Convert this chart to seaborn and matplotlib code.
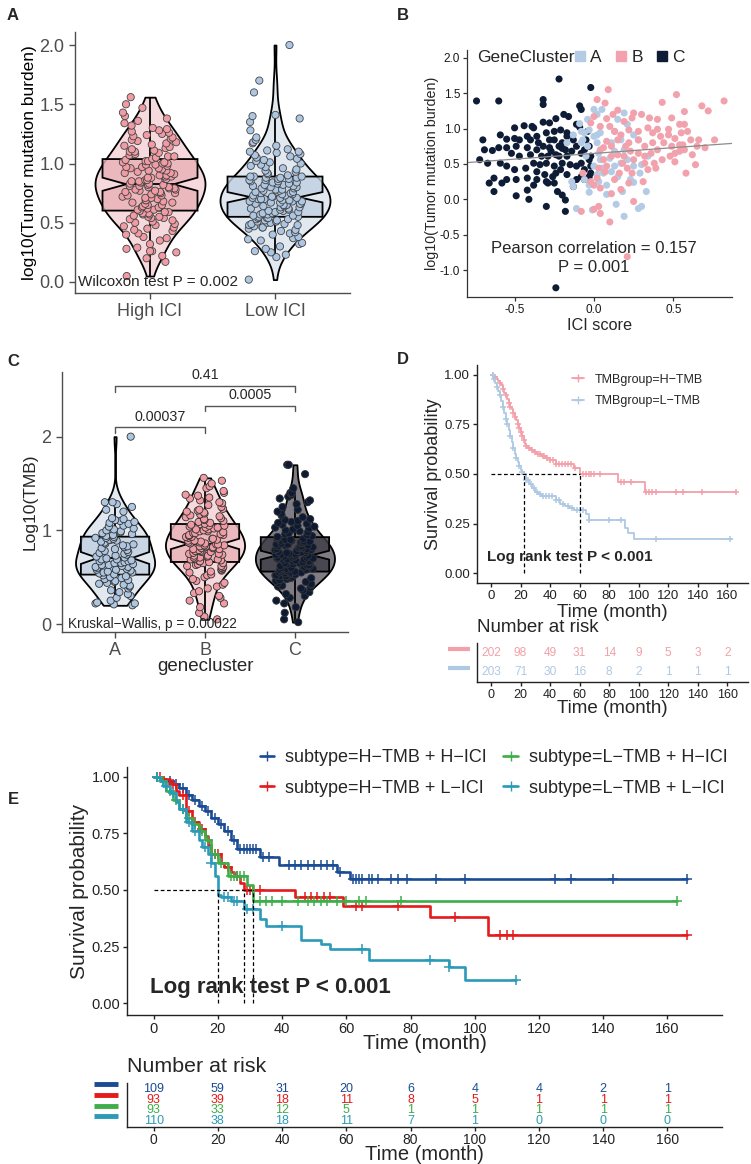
import numpy as np
import pandas as pd
import matplotlib
matplotlib.use("Agg")
import matplotlib.pyplot as plt
import seaborn as sns
from matplotlib.lines import Line2D
from matplotlib.ticker import FormatStrFormatter

## DATA ##
# Panel A: log10(TMB) by ICI group
tmb_high_ici = [0.05, 0.17, 0.20, 0.22, 0.25, 0.26, 0.26, 0.28, 0.29, 0.32, 0.35, 0.37, 0.38, 0.40, 0.41, 0.43, 0.44, 0.45, 0.46, 0.47, 0.48, 0.49, 0.50, 0.51, 0.52, 0.53, 0.54, 0.54, 0.55, 0.55, 0.56, 0.57, 0.57, 0.58, 0.58, 0.59, 0.59,
                0.60, 0.61, 0.61, 0.62, 0.63, 0.63, 0.64, 0.65, 0.65, 0.66, 0.67, 0.67, 0.68, 0.69, 0.69, 0.70, 0.71, 0.71, 0.72, 0.73, 0.73, 0.74, 0.75, 0.75, 0.76, 0.76, 0.77, 0.77, 0.78, 0.78, 0.79, 0.79, 0.80, 0.80, 0.81, 0.81, 0.82, 0.82,
                0.83, 0.83, 0.84, 0.84, 0.85, 0.85, 0.86, 0.86, 0.87, 0.87, 0.88, 0.88, 0.89, 0.89, 0.90, 0.90, 0.91, 0.92, 0.92, 0.93, 0.94, 0.94, 0.95, 0.96, 0.96, 0.97, 0.97, 0.98, 0.99, 0.99, 1.00, 1.00, 1.01, 1.01, 1.02, 1.02, 1.03, 1.04,
                1.05, 1.06, 1.06, 1.07, 1.08, 1.09, 1.10, 1.10, 1.11, 1.12, 1.13, 1.14, 1.15, 1.16, 1.17, 1.18, 1.19, 1.20, 1.21, 1.22, 1.23, 1.24, 1.25, 1.26, 1.27, 1.28, 1.29, 1.30, 1.32, 1.34, 1.36, 1.38, 1.40, 1.43, 1.47, 1.50, 1.56]
tmb_low_ici = [0.02, 0.21, 0.23, 0.25, 0.26, 0.28, 0.30, 0.32, 0.33, 0.35, 0.36, 0.37, 0.38, 0.40, 0.41, 0.42, 0.43, 0.44, 0.45, 0.46, 0.46, 0.47, 0.48, 0.48, 0.49, 0.49, 0.50, 0.50, 0.51, 0.51, 0.52, 0.52, 0.53, 0.53, 0.54, 0.54, 0.54,
               0.55, 0.55, 0.56, 0.56, 0.57, 0.57, 0.58, 0.58, 0.59, 0.59, 0.60, 0.60, 0.61, 0.61, 0.62, 0.62, 0.63, 0.63, 0.64, 0.64, 0.65, 0.65, 0.66, 0.66, 0.66, 0.67, 0.67, 0.68, 0.68, 0.68, 0.69, 0.69, 0.70, 0.70, 0.70, 0.71, 0.71, 0.71,
               0.72, 0.72, 0.73, 0.73, 0.74, 0.74, 0.75, 0.75, 0.76, 0.76, 0.77, 0.77, 0.78, 0.78, 0.79, 0.79, 0.80, 0.80, 0.81, 0.81, 0.82, 0.82, 0.83, 0.83, 0.84, 0.84, 0.85, 0.85, 0.86, 0.86, 0.87, 0.87, 0.88, 0.88, 0.88, 0.89, 0.89, 0.89,
               0.90, 0.91, 0.92, 0.93, 0.94, 0.95, 0.96, 0.97, 0.98, 0.99, 1.00, 1.01, 1.02, 1.03, 1.04, 1.05, 1.06, 1.07, 1.08, 1.09, 1.10, 1.10, 1.11, 1.12, 1.15, 1.17, 1.18, 1.20, 1.22, 1.28, 1.35, 1.38, 1.40, 1.41, 1.60, 1.70, 2.00]

# Panel B: ICI score vs log10(TMB) per gene cluster
clusterC_ici = [-0.74, -0.60, -0.22, -0.02, -0.32, -0.32, -0.09, -0.08, -0.19, -0.16, -0.24, -0.28, -0.32, -0.39, -0.38, -0.44, -0.50, -0.59, -0.55, -0.50,
                -0.47, -0.42, -0.36, -0.30, -0.25, -0.21, -0.11, -0.09, -0.17, -0.13, -0.25, -0.20, -0.22, -0.18, -0.28, -0.32, -0.36, -0.42, -0.49, -0.55,
                -0.60, -0.69, -0.64, -0.52, -0.47, -0.40, -0.33, -0.29, -0.24, -0.17, -0.08, -0.06, -0.03, -0.02, -0.67, -0.59, -0.55, -0.50, -0.43, -0.38,
                -0.34, -0.30, -0.25, -0.20, -0.15, -0.11, -0.06, -0.02, -0.02, -0.08, -0.11, -0.17, -0.21, -0.26, -0.31, -0.36, -0.42, -0.49, -0.55, -0.63,
                -0.66, -0.58, -0.42, -0.38, -0.30, -0.25, -0.23, -0.20, -0.18, -0.49, -0.41, -0.63, -0.30, -0.18, -0.24, -0.72, -0.70, -0.40, -0.35, -0.28,
                -0.24, -0.14, -0.11, -0.05, -0.04, -0.13, -0.06, -0.03, -0.17, -0.29, -0.36, -0.22, -0.27, -0.20, -0.08, -0.03]
clusterC_tmb = [1.39, 1.39, 1.70, 1.58, 1.41, 1.34, 1.32, 1.27, 1.20, 1.17, 1.14, 1.08, 1.09, 1.03, 1.01, 1.04, 1.01, 0.91, 0.85, 0.86,
                0.84, 0.89, 0.89, 0.94, 0.96, 0.98, 1.06, 1.02, 0.89, 0.84, 0.84, 0.80, 0.75, 0.70, 0.73, 0.75, 0.70, 0.73, 0.75, 0.73,
                0.73, 0.70, 0.69, 0.65, 0.61, 0.63, 0.61, 0.61, 0.63, 0.61, 0.65, 0.70, 0.75, 0.61, 0.51, 0.51, 0.47, 0.42, 0.44, 0.51,
                0.49, 0.51, 0.47, 0.51, 0.49, 0.47, 0.42, 0.47, 0.37, 0.32, 0.28, 0.35, 0.42, 0.32, 0.35, 0.39, 0.30, 0.28, 0.28, 0.30,
                0.23, 0.23, 0.13, 0.20, 0.25, 0.23, 0.11, 0.06, -0.01, 0.05, 0.00, 0.11, -0.10, -0.17, -1.25, 0.56, 0.84, 0.84, 0.80, 0.84,
                0.37, 0.68, 0.75, 0.84, 0.96, 0.18, 0.28, 0.32, 0.94, 0.23, 0.28, 0.61, 0.68, 0.72, 0.51, 0.56]
clusterA_ici = [0.00, 0.05, 0.02, -0.03, -0.06, -0.07, -0.08, -0.04, 0.02, 0.04, 0.02, 0.03, 0.04, 0.00, 0.02, 0.06, 0.11, 0.15, 0.13, 0.17,
                0.21, 0.25, 0.30, 0.34, 0.29, 0.23, 0.25, 0.21, 0.15, 0.19, 0.28, 0.19, 0.11, 0.13, 0.08, -0.03, -0.01, -0.11, 0.08, 0.14,
                0.19, 0.28, 0.30, 0.33, -0.14, -0.13, -0.17, -0.13, -0.08, -0.09, -0.04, 0.13, 0.17, 0.05, 0.10, -0.05, -0.06, -0.03, 0.18, 0.25,
                0.03, 0.00]
clusterA_tmb = [1.27, 1.27, 1.20, 0.98, 0.94, 0.84, 0.80, 0.75, 0.91, 0.94, 0.80, 0.65, 0.56, 0.47, 0.35, 0.37, 0.39, 0.32, 0.47, 0.51,
                0.56, 0.47, 0.49, 0.61, 0.37, 0.28, 0.91, 1.06, 1.13, 1.22, 0.84, 0.70, 0.80, 0.68, 0.20, 0.10, -0.15, -0.13, 0.07, -0.07,
                -0.24, -0.13, -0.10, 0.11, 0.25, 0.18, 0.80, 0.91, 0.96, 1.07, 1.13, 0.96, 0.84, 0.44, 0.58, 0.61, 0.28, 0.20, 0.11, 0.24,
                0.25, 0.89]
clusterB_ici = [0.02, 0.09, 0.07, 0.15, 0.12, 0.08, 0.10, 0.04, 0.13, 0.19, 0.24, 0.30, 0.35, 0.40, 0.43, 0.52, 0.68, 0.82, 0.72, 0.57,
                0.49, 0.54, 0.57, 0.47, 0.40, 0.34, 0.28, 0.22, 0.17, 0.15, 0.11, 0.06, 0.08, 0.22, 0.28, 0.32, 0.37, 0.42, 0.47, 0.51,
                0.55, 0.59, 0.61, 0.54, 0.49, 0.44, 0.40, 0.36, 0.32, 0.28, 0.23, 0.19, 0.15, 0.11, 0.06, 0.04, 0.25, 0.32, 0.38, 0.43,
                0.51, 0.57, 0.65, 0.70, 0.66, 0.76, 0.62, 0.51, 0.64, 0.58, 0.39, 0.34, 0.21, 0.16, 0.13, 0.07, 0.03, 0.02, -0.02, -0.07,
                0.00, 0.04, 0.11, 0.03, 0.00, -0.08, 0.04, 0.10, 0.17, 0.22, 0.24, 0.31, 0.25, 0.21, 0.56, 0.37, 0.25, 0.48, 0.54, 0.18,
                0.20, 0.08, 0.00, -0.02]
clusterB_tmb = [1.41, 1.55, 1.36, 1.26, 1.20, 1.14, 1.03, 1.03, 0.96, 1.10, 1.15, 1.20, 1.15, 1.13, 1.37, 1.48, 1.32, 1.39, 1.25, 1.24,
                1.15, 1.06, 1.06, 0.99, 0.99, 1.01, 0.96, 0.98, 0.91, 0.84, 0.75, 0.73, 0.82, 0.80, 0.84, 0.75, 0.80, 0.89, 0.91, 0.86,
                0.94, 0.96, 0.84, 0.77, 0.75, 0.80, 0.70, 0.65, 0.61, 0.65, 0.68, 0.61, 0.63, 0.61, 0.56, 0.70, 0.56, 0.51, 0.51, 0.56,
                0.53, 0.70, 0.75, 0.73, 0.84, 0.84, 0.63, 0.65, 0.49, 0.37, 0.44, 0.42, 0.44, 0.37, 0.28, 0.39, 0.44, 0.30, 0.25, 0.37,
                0.20, 0.16, 0.08, -0.10, -0.14, -0.17, -0.20, -0.32, 0.14, 0.23, 0.37, 0.25, -0.03, -0.81, 0.77, 0.94, 1.22, 0.61, 0.68, 0.51,
                0.75, 0.47, 1.17, 1.08]

# Panel C: log10(TMB) by gene cluster
tmb_cluster_a = [0.20, 0.21, 0.22, 0.22, 0.23, 0.25, 0.28, 0.30, 0.32, 0.34, 0.36, 0.38, 0.40, 0.41, 0.42, 0.43, 0.44, 0.45, 0.46, 0.47, 0.48, 0.49, 0.50, 0.51, 0.52,
                 0.53, 0.54, 0.55, 0.55, 0.56, 0.57, 0.58, 0.58, 0.59, 0.60, 0.61, 0.61, 0.62, 0.63, 0.63, 0.64, 0.65, 0.65, 0.66, 0.67, 0.67, 0.68, 0.69, 0.69, 0.70,
                 0.71, 0.72, 0.73, 0.74, 0.75, 0.76, 0.77, 0.78, 0.79, 0.80, 0.81, 0.82, 0.83, 0.84, 0.85, 0.86, 0.87, 0.88, 0.89, 0.90, 0.90, 0.91, 0.92, 0.92, 0.93,
                 0.94, 0.95, 0.96, 0.97, 0.98, 0.99, 1.00, 1.01, 1.02, 1.04, 1.05, 1.07, 1.08, 1.09, 1.10, 1.11, 1.12, 1.13, 1.20, 1.22, 1.25, 1.28, 1.30, 1.30, 2.00]
tmb_cluster_b = [0.05, 0.08, 0.12, 0.18, 0.22, 0.25, 0.28, 0.30, 0.33, 0.35, 0.38, 0.40, 0.42, 0.44, 0.46, 0.48, 0.50, 0.52, 0.53, 0.55, 0.56, 0.57, 0.58, 0.59, 0.60, 0.61, 0.62, 0.62, 0.63, 0.64, 0.65, 0.65,
                 0.66, 0.67, 0.67, 0.68, 0.69, 0.69, 0.70, 0.71, 0.71, 0.72, 0.73, 0.73, 0.74, 0.75, 0.75, 0.76, 0.77, 0.77, 0.78, 0.78, 0.79, 0.80, 0.80, 0.81, 0.81, 0.82, 0.82, 0.83, 0.83, 0.84, 0.84, 0.85, 0.85,
                 0.86, 0.86, 0.87, 0.87, 0.88, 0.89, 0.89, 0.90, 0.91, 0.91, 0.92, 0.93, 0.93, 0.94, 0.95, 0.95, 0.96, 0.97, 0.97, 0.98, 0.99, 0.99, 1.00, 1.01, 1.01, 1.02, 1.03, 1.03, 1.04, 1.05, 1.05, 1.06, 1.07,
                 1.08, 1.09, 1.10, 1.11, 1.12, 1.13, 1.14, 1.15, 1.16, 1.17, 1.18, 1.19, 1.20, 1.21, 1.22, 1.23, 1.25, 1.27, 1.29, 1.30, 1.32, 1.34, 1.35, 1.37, 1.38, 1.40, 1.42, 1.45, 1.47, 1.50, 1.53, 1.56]
tmb_cluster_c = [0.02, 0.05, 0.12, 0.18, 0.22, 0.25, 0.28, 0.30, 0.32, 0.34, 0.36, 0.38, 0.39, 0.40, 0.41, 0.42, 0.43, 0.44, 0.45, 0.46, 0.47, 0.47, 0.48, 0.49, 0.49, 0.50, 0.51, 0.51, 0.52, 0.52, 0.53, 0.53, 0.54, 0.54, 0.55, 0.55, 0.55,
                 0.56, 0.56, 0.57, 0.57, 0.58, 0.58, 0.59, 0.59, 0.60, 0.60, 0.61, 0.61, 0.62, 0.62, 0.63, 0.63, 0.64, 0.64, 0.65, 0.65, 0.66, 0.66, 0.67, 0.67, 0.68, 0.68, 0.69, 0.69, 0.70, 0.70, 0.70, 0.71, 0.71, 0.71, 0.72, 0.72, 0.73, 0.73,
                 0.74, 0.74, 0.75, 0.75, 0.76, 0.76, 0.77, 0.77, 0.78, 0.78, 0.79, 0.79, 0.80, 0.80, 0.81, 0.81, 0.82, 0.82, 0.83, 0.83, 0.84, 0.84, 0.85, 0.85, 0.86, 0.86, 0.87, 0.87, 0.88, 0.88, 0.89, 0.89, 0.90, 0.90, 0.91, 0.91, 0.92, 0.93,
                 0.94, 0.95, 0.96, 0.97, 0.98, 0.99, 1.00, 1.01, 1.02, 1.03, 1.04, 1.05, 1.06, 1.07, 1.08, 1.09, 1.10, 1.11, 1.12, 1.14, 1.16, 1.18, 1.20, 1.22, 1.25, 1.28, 1.30, 1.32, 1.34, 1.36, 1.38, 1.40, 1.40, 1.45, 1.60, 1.70, 1.70]
pair_labels = ["0.00037", "0.0005", "0.41"]

# Panel D: Kaplan-Meier by TMB group (event times, survival after the step, censor times)
htmb_t = [0, 2, 4, 5, 6, 7, 8, 9, 10, 11, 12, 13, 14, 15, 16, 17, 18, 19, 20, 21, 22, 23, 24, 25, 27, 29, 31, 34, 37, 40, 44, 56, 60, 86, 104]
htmb_s = [1.0, 0.99, 0.98, 0.97, 0.96, 0.95, 0.93, 0.91, 0.90, 0.88, 0.86, 0.84, 0.83, 0.81, 0.79, 0.77, 0.75, 0.73, 0.71, 0.69, 0.67, 0.65, 0.64, 0.63, 0.62, 0.61, 0.60, 0.59, 0.58, 0.57, 0.55, 0.53, 0.50, 0.46, 0.41]
htmb_cens = [1, 3, 6, 8, 10, 12, 13, 15, 16, 18, 19, 20, 21, 22, 24, 26, 28, 30, 32, 33, 35, 36, 38, 40, 42, 44, 46, 48, 50, 52, 54, 57, 62, 64, 66, 68, 70, 74, 88, 90, 95, 105, 107, 109, 112, 125, 130, 143, 166]
ltmb_t = [0, 2, 3, 4, 5, 6, 7, 8, 9, 10, 11, 12, 13, 14, 15, 16, 17, 18, 19, 20, 21, 22, 24, 26, 28, 30, 32, 34, 44, 47, 50, 53, 56, 64, 66, 91, 93, 97]
ltmb_s = [1.0, 0.98, 0.96, 0.94, 0.92, 0.90, 0.87, 0.84, 0.81, 0.78, 0.75, 0.72, 0.69, 0.66, 0.63, 0.60, 0.58, 0.56, 0.54, 0.52, 0.51, 0.50, 0.47, 0.45, 0.43, 0.41, 0.40, 0.39, 0.37, 0.35, 0.34, 0.33, 0.32, 0.30, 0.27, 0.23, 0.20, 0.17]
ltmb_cens = [1, 2, 4, 6, 8, 10, 11, 13, 15, 17, 19, 21, 24, 25, 27, 29, 31, 33, 35, 37, 39, 41, 44, 46, 49, 52, 55, 58, 60, 62, 66, 80, 88, 112, 162]
risk_times = [0, 20, 40, 60, 80, 100, 120, 140, 160]
risk_htmb = [202, 98, 49, 31, 14, 9, 5, 3, 2]
risk_ltmb = [203, 71, 30, 16, 8, 2, 1, 1, 1]

# Panel E: Kaplan-Meier by TMB + ICI subtype
hh_t = [0, 2, 4, 6, 8, 10, 12, 14, 16, 18, 20, 22, 24, 26, 33, 39, 57, 61]
hh_s = [1.0, 0.99, 0.98, 0.97, 0.95, 0.92, 0.90, 0.87, 0.85, 0.82, 0.79, 0.76, 0.72, 0.68, 0.645, 0.61, 0.58, 0.55]
hh_cens = [1, 5, 7, 9, 11, 13, 15, 17, 19, 21, 23, 25, 27, 28, 29, 30, 31, 32, 34, 36, 42, 44, 46, 48, 50, 52, 54, 56, 58, 62, 63, 64, 65, 67, 68, 70, 74, 76, 79, 88, 97, 125, 130, 143, 166]
hl_t = [0, 3, 5, 7, 8, 10, 12, 14, 16, 17, 18, 21, 22, 24, 25, 27, 28, 44, 59, 86, 104]
hl_s = [1.0, 0.99, 0.97, 0.94, 0.92, 0.85, 0.80, 0.77, 0.74, 0.70, 0.66, 0.62, 0.60, 0.58, 0.56, 0.53, 0.50, 0.47, 0.43, 0.38, 0.30]
hl_cens = [2, 6, 9, 11, 13, 15, 19, 20, 23, 26, 29, 30, 31, 33, 47, 49, 51, 53, 55, 63, 65, 76, 94, 108, 110, 112, 166]
lh_t = [0, 2, 4, 6, 8, 10, 12, 14, 16, 18, 20, 23, 29, 31]
lh_s = [1.0, 0.98, 0.94, 0.90, 0.86, 0.82, 0.79, 0.76, 0.72, 0.66, 0.62, 0.56, 0.52, 0.45]
lh_cens = [1, 3, 5, 7, 9, 11, 13, 15, 17, 19, 21, 24, 25, 26, 27, 28, 33, 35, 37, 40, 45, 48, 50, 52, 54, 57, 60, 64, 66, 77, 163]
ll_t = [0, 2, 3, 5, 7, 8, 10, 12, 14, 15, 17, 18, 19, 20, 21, 24, 28, 33, 35, 46, 52, 55, 67, 92, 97]
ll_s = [1.0, 0.98, 0.96, 0.93, 0.89, 0.86, 0.80, 0.76, 0.72, 0.69, 0.66, 0.62, 0.56, 0.48, 0.47, 0.45, 0.415, 0.37, 0.34, 0.28, 0.26, 0.24, 0.19, 0.16, 0.10]
ll_cens = [1, 4, 6, 9, 11, 13, 16, 18, 22, 23, 25, 26, 29, 31, 40, 65, 86, 92, 113]
risk_hh = [109, 59, 31, 20, 6, 4, 4, 2, 1]
risk_hl = [93, 39, 18, 11, 8, 5, 1, 1, 1]
risk_lh = [93, 33, 12, 5, 1, 1, 1, 1, 1]
risk_ll = [110, 38, 18, 11, 7, 1, 0, 0, 0]

## COLOURS ##
PINK_PT, BLUE_PT, NAVY_PT = "#F19CA4", "#ADC6E2", "#0D1A33"
PINK_VIO, BLUE_VIO, NAVY_VIO = "#FBD4D8", "#DFE8F3", "#7F7A87"
PINK_BOX, BLUE_BOX, NAVY_BOX = "#F2A7AE", "#BCD0E7", "#3B3948"
KM_PINK, KM_BLUE = "#F2A0A9", "#AFC9E3"
E_COLS = ["#1A4C95", "#E41A1C", "#3DAE49", "#2B9AB8"]
GREY = "#4D4D4D"

sns.set_theme(style="ticks")
plt.rcParams["font.family"] = ["Liberation Sans", "DejaVu Sans"]
np.random.seed(7)  # strip jitter only

W, H = 751, 1164
fig = plt.figure(figsize=(W / 100, H / 100), dpi=100)


def new_ax(l, t, r, b):
    return fig.add_axes([l / W, 1 - b / H, (r - l) / W, (b - t) / H])


def ftext(x, y, s, **kw):
    fig.text(x / W, 1 - y / H, s, **kw)


def classic(ax, col="#333333", lw=1.0):
    sns.despine(ax=ax)
    for sp in ["left", "bottom"]:
        ax.spines[sp].set_color(col)
        ax.spines[sp].set_linewidth(lw)
    ax.tick_params(color=col, length=4, width=lw)


def violin_box_strip(ax, df, order, vio, boxc, pts, edge):
    sns.violinplot(data=df, x="grp", y="val", hue="grp", order=order, hue_order=order,
                   palette=vio, cut=0, inner=None, density_norm="width", width=0.88,
                   linewidth=1.3, linecolor="black", legend=False, ax=ax)
    sns.boxplot(data=df, x="grp", y="val", hue="grp", order=order, hue_order=order,
                palette=boxc, width=0.76, notch=True, showfliers=False, showcaps=False,
                linewidth=1.3, linecolor="black", legend=False, ax=ax)
    for p in ax.patches:
        fc = p.get_facecolor()
        p.set_facecolor((fc[0], fc[1], fc[2], 0.8))
    sns.stripplot(data=df, x="grp", y="val", hue="grp", order=order, hue_order=order,
                  palette=pts, jitter=0.22, size=5.2, linewidth=0.6, edgecolor=edge,
                  legend=False, ax=ax, zorder=5)


# ---------- A ----------
axA = new_ax(75, 32, 350, 293)
dfA = pd.DataFrame({"grp": ["High ICI"] * len(tmb_high_ici) + ["Low ICI"] * len(tmb_low_ici),
                    "val": tmb_high_ici + tmb_low_ici})
violin_box_strip(axA, dfA, ["High ICI", "Low ICI"], [PINK_VIO, BLUE_VIO], [PINK_BOX, BLUE_BOX],
                 [PINK_PT, BLUE_PT], "#444444")
axA.set_xlim(-0.6, 1.6)
axA.set_ylim(-0.093, 2.11)
axA.set_yticks([0, 0.5, 1.0, 1.5, 2.0])
axA.yaxis.set_major_formatter(FormatStrFormatter("%.1f"))
classic(axA, GREY)
axA.tick_params(labelsize=13, labelcolor=GREY)
axA.set_xlabel("")
axA.set_ylabel("log10(Tumor mutation burden)", fontsize=12.5, color="black")
axA.yaxis.set_label_coords(-0.138, 0.5)
axA.text(-0.58, 0.0, "Wilcoxon test P = 0.002", fontsize=11, ha="left", va="center", zorder=10)

# ---------- B ----------
axB = new_ax(467, 50, 732, 297)
dfB = pd.DataFrame({"ici": clusterC_ici + clusterA_ici + clusterB_ici,
                    "tmb": clusterC_tmb + clusterA_tmb + clusterB_tmb,
                    "cl": ["C"] * len(clusterC_ici) + ["A"] * len(clusterA_ici) + ["B"] * len(clusterB_ici)})
axB.set_xlim(-0.80, 0.87)
axB.set_ylim(-1.38, 2.11)
sns.scatterplot(data=dfB, x="ici", y="tmb", hue="cl", palette={"A": "#B3CBE5", "B": "#F2A2AC", "C": "#0E1C36"},
                s=26, linewidth=0, legend=False, ax=axB)
sns.regplot(data=dfB, x="ici", y="tmb", scatter=False, ci=None, truncate=False,
            color="#8C8C8C", line_kws={"lw": 0.9}, ax=axB)
axB.set_xlim(-0.80, 0.87)
axB.set_yticks([-1.0, -0.5, 0.0, 0.5, 1.0, 1.5, 2.0])
axB.set_xticks([-0.5, 0.0, 0.5])
axB.yaxis.set_major_formatter(FormatStrFormatter("%.1f"))
axB.xaxis.set_major_formatter(FormatStrFormatter("%.1f"))
classic(axB, "#333333", 0.9)
axB.tick_params(labelsize=8.5, labelcolor="#1A1A1A", length=3, pad=2)
axB.set_ylabel("log10(Tumor mutation burden)", fontsize=10.3)
axB.yaxis.set_label_coords(-0.105, 0.5)
axB.set_xlabel("ICI score", fontsize=11.7)
axB.xaxis.set_label_coords(0.5, -0.085)
axB.text(0.038, 0.968, "GeneCluster", transform=axB.transAxes, fontsize=12.5, ha="left", va="center")
handles = [Line2D([], [], ls="none", marker="s", ms=6.5, color=c, label=l)
           for c, l in zip(["#B3CBE5", "#F2A2AC", "#0E1C36"], ["A", "B", "C"])]
axB.legend(handles=handles, loc="center left", bbox_to_anchor=(0.40, 0.968), ncol=3, frameon=False,
           fontsize=12.5, handletextpad=0.2, columnspacing=0.7, borderpad=0, borderaxespad=0, handlelength=0.8)
axB.text(0.0, -0.69, "Pearson correlation = 0.157", fontsize=12, ha="center", va="center")
axB.text(0.0, -0.96, "P = 0.001", fontsize=12, ha="center", va="center")

# ---------- C ----------
axC = new_ax(62, 372, 348, 632)
dfC = pd.DataFrame({"grp": ["A"] * len(tmb_cluster_a) + ["B"] * len(tmb_cluster_b) + ["C"] * len(tmb_cluster_c),
                    "val": tmb_cluster_a + tmb_cluster_b + tmb_cluster_c})
violin_box_strip(axC, dfC, ["A", "B", "C"], [BLUE_VIO, PINK_VIO, NAVY_VIO], [BLUE_BOX, PINK_BOX, NAVY_BOX],
                 [BLUE_PT, PINK_PT, NAVY_PT], "#333333")
axC.set_xlim(-0.59, 2.59)
axC.set_ylim(-0.085, 2.69)
axC.set_yticks([0, 1, 2])
classic(axC, GREY)
axC.tick_params(labelsize=13, labelcolor=GREY)
axC.set_ylabel("Log10(TMB)", fontsize=12.5)
axC.yaxis.set_label_coords(-0.084, 0.5)
axC.set_xlabel("genecluster", fontsize=13.5)
axC.xaxis.set_label_coords(0.5, -0.1)
axC.text(-0.52, 0.0, "Kruskal\u2212Wallis, p = 0.00022", fontsize=9.8, ha="left", va="center", zorder=10)
for (x0, x1), yb, lab in zip([(0, 1), (1, 2), (0, 2)], [2.10, 2.33, 2.54], pair_labels):
    axC.plot([x0, x0, x1, x1], [yb - 0.06, yb, yb, yb - 0.06], color="#555555", lw=1.0)
    axC.text((x0 + x1) / 2, yb + 0.04, lab, fontsize=10.3, ha="center", va="bottom")


# ---------- KM helpers ----------
def km(ax, t, s, cens, t_end, col, lw, ms):
    ax.step(t + [t_end], s + [s[-1]], where="post", color=col, lw=lw)
    idx = np.searchsorted(t, cens, side="right") - 1
    ax.plot(cens, np.array(s)[idx], ls="none", marker="+", ms=ms, mew=1.1, color=col)


def median_lines(ax, curves):
    meds = [t[next(i for i, v in enumerate(s) if v <= 0.5)] for t, s in curves if min(s) <= 0.5]
    ax.plot([0, max(meds)], [0.5, 0.5], ls=(0, (3, 2)), color="black", lw=0.9)
    for m in meds:
        ax.plot([m, m], [0, 0.5], ls=(0, (3, 2)), color="black", lw=0.9)


def risk_table(ax, rows, cols, fs, bar_x, bar_off, bar_lw):
    for i, (row, c) in enumerate(zip(rows, cols)):
        for t, n in zip(risk_times, row):
            ax.text(t, i, str(n), ha="center", va="center", color=c, fontsize=fs)
        ax.plot(bar_x, [i + bar_off, i + bar_off], color=c, lw=bar_lw, clip_on=False,
                transform=ax.get_yaxis_transform(), solid_capstyle="butt")
    ax.set_yticks([])
    ax.set_xticks(risk_times)


# ---------- D ----------
axD = new_ax(477, 365, 748, 583)
km(axD, htmb_t, htmb_s, htmb_cens, 166, KM_PINK, 1.3, 5)
km(axD, ltmb_t, ltmb_s, ltmb_cens, 163, KM_BLUE, 1.3, 5)
median_lines(axD, [(htmb_t, htmb_s), (ltmb_t, ltmb_s)])
axD.set_xlim(-9.5, 174)
axD.set_ylim(-0.05, 1.05)
axD.set_xticks(risk_times)
axD.set_yticks([0, 0.25, 0.5, 0.75, 1.0])
axD.yaxis.set_major_formatter(FormatStrFormatter("%.2f"))
classic(axD, "#222222")
axD.tick_params(labelsize=9.5, labelcolor="#222222", length=3, pad=2)
axD.set_ylabel("Survival probability", fontsize=13)
axD.yaxis.set_label_coords(-0.13, 0.5)
axD.set_xlabel("Time (month)", fontsize=13.5)
axD.xaxis.set_label_coords(0.5, -0.098)
axD.text(-2.7, 0.08, "Log rank test P < 0.001", fontsize=11, fontweight="bold", ha="left", va="center")
hD = [Line2D([], [], color=KM_PINK, marker="+", lw=1.3, label="TMBgroup=H\u2212TMB"),
      Line2D([], [], color=KM_BLUE, marker="+", lw=1.3, label="TMBgroup=L\u2212TMB")]
axD.legend(handles=hD, loc="upper left", bbox_to_anchor=(0.35, 0.96), frameon=False, fontsize=9,
           handlelength=1.0, handletextpad=0.8, labelspacing=0.75, borderpad=0, borderaxespad=0)

axDr = new_ax(477, 643, 748, 682)
risk_table(axDr, [risk_htmb, risk_ltmb], [KM_PINK, KM_BLUE], 8.6, [-0.107, -0.026], -0.2, 3)
axDr.set_xlim(-9.5, 174)
axDr.set_ylim(1.53, -0.53)
classic(axDr, "#222222")
axDr.tick_params(labelsize=9, labelcolor="#222222", length=3, pad=2)
axDr.set_xlabel("Time (month)", fontsize=13.5)
axDr.xaxis.set_label_coords(0.5, -0.47)
ftext(477, 628, "Number at risk", fontsize=13.5, ha="left", va="center")

# ---------- E ----------
axE = new_ax(127, 767, 722, 1015)
e_curves = [(hh_t, hh_s, hh_cens, 166), (hl_t, hl_s, hl_cens, 166), (lh_t, lh_s, lh_cens, 163), (ll_t, ll_s, ll_cens, 113)]
for (t, s, c, te), col in zip(e_curves, E_COLS):
    km(axE, t, s, c, te, col, 1.9, 6.5)
median_lines(axE, [(t, s) for t, s, c, te in e_curves])
axE.set_xlim(-8.3, 177)
axE.set_ylim(-0.053, 1.044)
axE.set_xticks(risk_times)
axE.set_yticks([0, 0.25, 0.5, 0.75, 1.0])
axE.yaxis.set_major_formatter(FormatStrFormatter("%.2f"))
classic(axE, "#222222")
axE.tick_params(labelsize=10.5, labelcolor="#222222", length=3, pad=2)
axE.set_ylabel("Survival probability", fontsize=15)
axE.yaxis.set_label_coords(-0.064, 0.5)
axE.set_xlabel("Time (month)", fontsize=15)
axE.xaxis.set_label_coords(0.5, -0.075)
axE.text(-1.1, 0.07, "Log rank test P < 0.001", fontsize=16, fontweight="bold", ha="left", va="center")
e_labels = ["subtype=H\u2212TMB + H\u2212ICI", "subtype=H\u2212TMB + L\u2212ICI",
            "subtype=L\u2212TMB + H\u2212ICI", "subtype=L\u2212TMB + L\u2212ICI"]
hE = [Line2D([], [], color=c, marker="+", lw=1.9, ms=6.5, label=l) for c, l in zip(E_COLS, e_labels)]
fig.legend(handles=hE, loc="upper left", bbox_to_anchor=(260 / W, 1 - 749 / H), ncol=2, frameon=False,
           fontsize=13, handlelength=0.8, handletextpad=0.6, columnspacing=0.9, labelspacing=0.75,
           borderpad=0, borderaxespad=0)

axEr = new_ax(127, 1083, 722, 1127)
risk_table(axEr, [risk_hh, risk_hl, risk_lh, risk_ll], E_COLS, 9, [-0.055, -0.015], -0.45, 3.5)
axEr.set_xlim(-8.3, 177)
axEr.set_ylim(3.56, -0.56)
classic(axEr, "#222222")
axEr.tick_params(labelsize=10, labelcolor="#222222", length=3, pad=1)
axEr.set_xlabel("Time (month)", fontsize=14.5)
axEr.xaxis.set_label_coords(0.5, -0.41)
ftext(127, 1067, "Number at risk", fontsize=15.4, ha="left", va="center")

# panel letters
for x, y, l in [(7, 15, "A"), (397, 15, "B"), (7, 361, "C"), (397, 360, "D"), (8, 800, "E")]:
    ftext(x, y, l, fontsize=12, fontweight="bold", ha="left", va="center")

fig.savefig("out.png", dpi=100)
